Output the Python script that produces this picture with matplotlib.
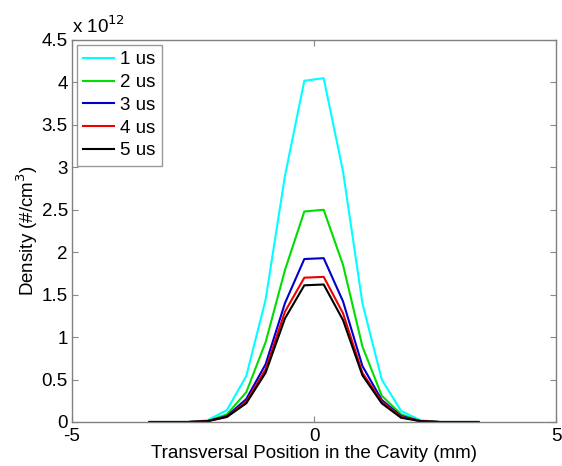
import numpy as np
import matplotlib.pyplot as plt
from matplotlib.ticker import FixedLocator, FuncFormatter

plt.rcParams['font.family'] = ['Liberation Sans', 'DejaVu Sans']
plt.rcParams['axes.unicode_minus'] = False

# transversal positions (mm)
x = np.arange(-3.4, 3.41, 0.4)

# densities in units of 1e12 #/cm^3
d1 = [0, 0, 0, 0.02, 0.14, 0.54, 1.44, 2.90, 4.02, 4.05, 2.95, 1.40, 0.50, 0.13, 0.02, 0, 0, 0]
d2 = [0, 0, 0, 0.01, 0.09, 0.35, 0.94, 1.79, 2.48, 2.50, 1.85, 0.89, 0.31, 0.09, 0.01, 0, 0, 0]
d3 = [0, 0, 0, 0.01, 0.07, 0.27, 0.68, 1.40, 1.92, 1.93, 1.42, 0.66, 0.26, 0.07, 0.01, 0, 0, 0]
d4 = [0, 0, 0, 0.01, 0.06, 0.24, 0.62, 1.30, 1.70, 1.71, 1.28, 0.58, 0.24, 0.06, 0.01, 0, 0, 0]
d5 = [0, 0, 0, 0.01, 0.06, 0.22, 0.58, 1.22, 1.61, 1.62, 1.20, 0.55, 0.22, 0.05, 0.01, 0, 0, 0]
labels = ['1 us', '2 us', '3 us', '4 us', '5 us']
colors = ['#00ffff', '#00dd00', '#0000cc', '#ee0000', '#000000']
scale = 1e12
fs = 13.5

fig = plt.figure(figsize=(5.62, 4.66), dpi=100)
ax = fig.add_axes([72/562, 44/466, 484/562, 382/466])

for d, lab, c in zip([d1, d2, d3, d4, d5], labels, colors):
    ax.plot(x, np.array(d) * scale, color=c, lw=1.5, label=lab)

ax.set_xlim(-5, 5)
ax.set_ylim(0, 4.5e12)
ax.xaxis.set_major_locator(FixedLocator([-5, 0, 5]))
ax.yaxis.set_major_locator(FixedLocator(np.arange(0, 4.51, 0.5) * scale))
ax.yaxis.set_major_formatter(FuncFormatter(lambda v, p: f'{v/scale:g}'))
ax.tick_params(direction='in', top=True, right=True, length=4, width=0.8,
               color='#888888', labelsize=fs, pad=3)
ax.tick_params(axis='x', pad=4)
for s in ax.spines.values():
    s.set_color('#808080')
    s.set_linewidth(1.0)

ax.text(0, 1.008, r'x 10$^{12}$', transform=ax.transAxes, fontsize=fs,
        ha='left', va='bottom')
ax.set_xlabel('Transversal Position in the Cavity (mm)', fontsize=fs, labelpad=0)
ax.set_ylabel('Density (#/cm$^3$)', fontsize=fs, labelpad=1)

leg = ax.legend(loc='upper left', fontsize=fs, frameon=True, fancybox=False,
                handlelength=1.65, handletextpad=0.3, labelspacing=0.3,
                borderpad=0.35, borderaxespad=0.25)
leg.get_frame().set_edgecolor('#808080')
leg.get_frame().set_linewidth(1.0)

fig.savefig('out.png', dpi=100)
